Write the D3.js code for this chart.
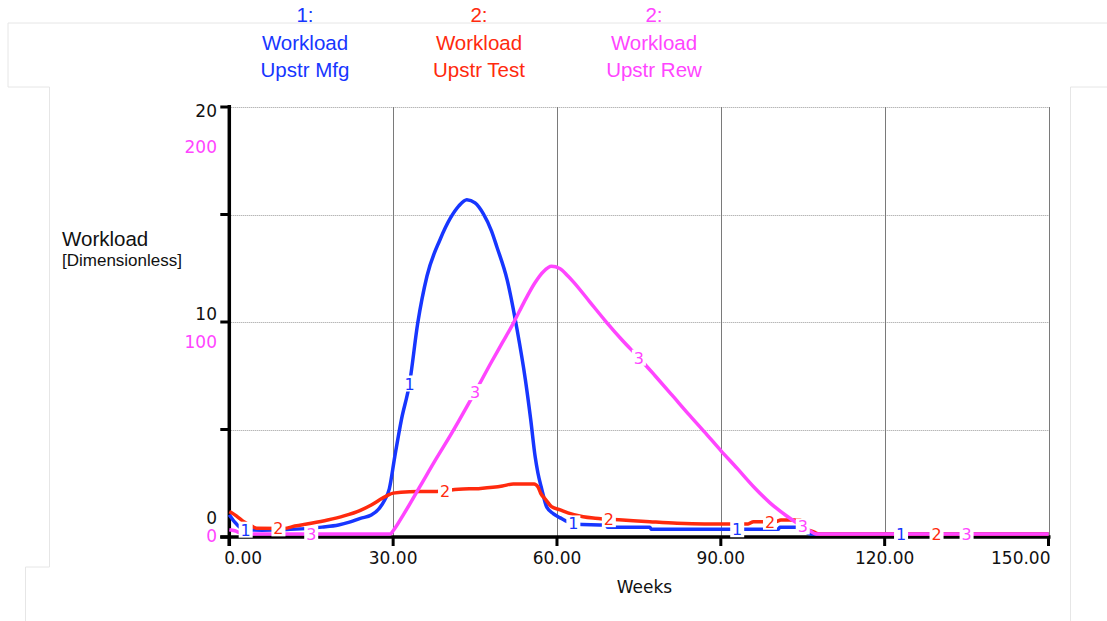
<!DOCTYPE html>
<html>
<head>
<meta charset="utf-8">
<script src="https://cdn.jsdelivr.net/npm/d3@7"></script>
<style>
  html, body { margin: 0; padding: 0; background: #fff; }
  svg { display: block; }
</style>
</head>
<body>
<svg id="chart" width="1107" height="621"></svg>
<script>
// ---------------- DATA ----------------
const xTicks = [0, 30, 60, 90, 120, 150];
const xTickLabels = ["0.00", "30.00", "60.00", "90.00", "120.00", "150.00"];
const yTicks = [0, 5, 10, 15, 20];
const yTickLabels = ["0", "", "10", "", "20"];
const y2TickValues = [0, 100, 200];
const y2TickLabels = ["0", "100", "200"];

const legendNumbers = ["1:", "2:", "2:"];
const legendLine1 = ["Workload", "Workload", "Workload"];
const legendLine2 = ["Upstr Mfg", "Upstr Test", "Upstr Rew"];
const seriesMarks = ["1", "2", "3"];

// [week, value]  (series 1 & 2 on 0-20 scale, series 3 on 0-200 scale)
const upstrMfg = [
  [0,0.9],[1,0.55],[2,0.3],[3,0.2],[6,0.18],[10,0.2],[14,0.25],[17,0.32],[20,0.42],
  [22,0.55],[24,0.73],[26,0.88],[27.5,1.2],[28.5,1.6],[29.3,2.1],[30.3,3.6],[31.5,5.3],
  [33,7.0],[34.5,9.8],[36.2,12.0],[38.6,13.7],[40.5,14.7],[42,15.25],[43.5,15.55],[45,15.4],
  [46.5,14.9],[48,14.1],[49,13.35],[50.9,11.8],[52.7,9.5],[54.2,7.2],[55.2,5.3],[56,3.6],
  [56.5,2.85],[57.2,2.1],[58.1,1.27],[59.3,0.95],[60.6,0.75],[61.5,0.62],[63.5,0.45],
  [69,0.42],[69.3,0.31],[77,0.31],[77.3,0.22],[100.5,0.22],[100.8,0.31],[104,0.31],
  [105.5,0.1],[106.5,0],[150,0]
];
const upstrTest = [
  [0,1.04],[0.5,0.98],[1.5,0.8],[2.5,0.6],[3.5,0.45],[4.3,0.34],[5,0.27],[10,0.26],
  [12,0.37],[15,0.5],[18,0.65],[21,0.84],[24,1.1],[26,1.35],[28,1.66],[29,1.8],[30,1.9],
  [33,1.97],[38,1.98],[42,2.08],[46,2.12],[50,2.23],[52,2.33],[55.8,2.33],[56.5,2.2],
  [57,1.9],[58,1.58],[59,1.27],[60.6,1.12],[62,0.98],[64.8,0.8],[67,0.73],[72,0.65],
  [77,0.57],[82,0.5],[87,0.47],[95,0.47],[96,0.57],[100,0.57],[101,0.65],[104.5,0.65],
  [105.5,0.26],[107,0.1],[108,0],[150,0]
];
const upstrRew = [
  [0,2],[1,1.5],[2,0.5],[3,0],[29.5,0],[30,1.5],[32,9.5],[35,22.5],[38,35.5],[40.4,45.5],
  [42,52.5],[45,66],[48,80],[50,89],[52,98],[54,108],[56,117],[57.5,122],[59,124.5],
  [60.5,123.5],[62,120],[63,117.3],[66,108],[69,98.7],[72,90],[75,82],[78,73.5],
  [81,64.8],[84,56],[87,47.5],[90,38.8],[93,30.5],[96,22],[99,14.5],[102,8.5],[104,5],
  [106,2],[107.5,0],[150,0]
];
const markWeeks1 = [3, 33, 63, 93, 123];
const markWeeks2 = [9, 39.5, 69.5, 99, 129.5];
const markWeeks3 = [15, 45, 75, 105, 135];

// ---------------- LAYOUT ----------------
const colors = ["#1736ff", "#ff2a0e", "#ff45ff"];
const L = 229.3, R = 1048.5, T = 107, B = 537;
const svg = d3.select("#chart");

const x = d3.scaleLinear().domain([0, 150]).range([L, R]);
const y = d3.scaleLinear().domain([0, 20]).range([B, T]);
const y2 = d3.scaleLinear().domain([0, 200]).range([B, T]);
const lineShift = -3;

// faint panel outlines
const faint = "#e6e6e6";
svg.append("path")
  .attr("d", `M8,87 L8,23 L1107,23`)
  .attr("fill", "none").attr("stroke", faint).attr("stroke-width", 1);
svg.append("path")
  .attr("d", `M8,87 L49.5,87 L49.5,567 L25.5,567 L25.5,621`)
  .attr("fill", "none").attr("stroke", faint).attr("stroke-width", 1);
svg.append("path")
  .attr("d", `M1107,87 L1070.5,87 L1070.5,621`)
  .attr("fill", "none").attr("stroke", faint).attr("stroke-width", 1);

// grid
const grid = svg.append("g");
grid.selectAll("line.h").data(yTicks.filter(v => v > 0)).enter().append("line")
  .attr("x1", L).attr("x2", R)
  .attr("y1", d => Math.round(y(d)) + 0.5).attr("y2", d => Math.round(y(d)) + 0.5)
  .attr("stroke", "#9a9a9a").attr("stroke-width", 1).attr("stroke-dasharray", "1,1");
grid.selectAll("line.v").data(xTicks.filter(v => v > 0)).enter().append("line")
  .attr("x1", d => Math.round(x(d)) + 0.5).attr("x2", d => Math.round(x(d)) + 0.5)
  .attr("y1", T).attr("y2", B)
  .attr("stroke", "#7a7a7a").attr("stroke-width", 1);

// axes
const axes = svg.append("g");
axes.append("line").attr("x1", L).attr("x2", L).attr("y1", T - 2).attr("y2", B + 9)
  .attr("stroke", "#000").attr("stroke-width", 3.5);
axes.append("line").attr("x1", L - 9).attr("x2", R + 2).attr("y1", B).attr("y2", B)
  .attr("stroke", "#000").attr("stroke-width", 3.5);
axes.selectAll("line.yt").data(yTicks).enter().append("line")
  .attr("x1", L - 9).attr("x2", L).attr("y1", d => y(d)).attr("y2", d => y(d))
  .attr("stroke", "#000").attr("stroke-width", 3);
axes.selectAll("line.xt").data(xTicks).enter().append("line")
  .attr("x1", d => x(d)).attr("x2", d => x(d)).attr("y1", B).attr("y2", B + 9)
  .attr("stroke", "#000").attr("stroke-width", 3);

const tickFont = "'DejaVu Sans', Verdana, sans-serif";
axes.selectAll("text.xl").data(xTicks).enter().append("text")
  .attr("y", 564)
  .attr("text-anchor", "middle").attr("font-family", tickFont).attr("font-size", 17)
  .attr("fill", "#111").text((d, i) => xTickLabels[i])
  .each(function(d) {
    const w = this.getComputedTextLength();
    let cx = x(d);
    cx = Math.max(cx, L - 5 + w / 2);
    cx = Math.min(cx, R + 2 - w / 2);
    d3.select(this).attr("x", cx);
  });
axes.selectAll("text.yl").data(yTicks).enter().append("text")
  .filter((d, i) => yTickLabels[i] !== "")
  .attr("x", 217).attr("y", d => y(d) - 13.5 + 23.5 * d / 20)
  .attr("text-anchor", "end").attr("font-family", tickFont).attr("font-size", 17)
  .attr("fill", "#111").text(d => yTickLabels[yTicks.indexOf(d)]);
axes.selectAll("text.y2l").data(y2TickValues).enter().append("text")
  .attr("x", 217).attr("y", d => y2(d) + 5 + 41 * d / 200)
  .attr("text-anchor", "end").attr("font-family", tickFont).attr("font-size", 17)
  .attr("fill", colors[2]).text((d, i) => y2TickLabels[i]);

svg.append("text").attr("x", 644.5).attr("y", 593).attr("text-anchor", "middle")
  .attr("font-family", tickFont).attr("font-size", 17).attr("fill", "#111").text("Weeks");

// y axis title
const helv = "'Liberation Sans', Arial, Helvetica, sans-serif";
svg.append("text").attr("x", 62).attr("y", 246).attr("font-family", helv)
  .attr("font-size", 20.5).attr("fill", "#111").text("Workload");
svg.append("text").attr("x", 62).attr("y", 266).attr("font-family", helv)
  .attr("font-size", 17).attr("fill", "#111").text("[Dimensionless]");

// legend
const legendX = [305, 479, 654];
legendX.forEach((lx, i) => {
  const g = svg.append("g").attr("fill", colors[i]).attr("font-family", helv)
    .attr("text-anchor", "middle").attr("font-size", 20.5);
  g.append("text").attr("x", lx).attr("y", 22).text(legendNumbers[i]);
  g.append("text").attr("x", lx).attr("y", 49.5).text(legendLine1[i]);
  g.append("text").attr("x", lx).attr("y", 76.5).text(legendLine2[i]);
});

// series lines
const series = [
  { data: upstrMfg, sy: y, marks: markWeeks1 },
  { data: upstrTest, sy: y, marks: markWeeks2 },
  { data: upstrRew, sy: y2, marks: markWeeks3 }
];
const plot = svg.append("g").attr("transform", `translate(0,${lineShift})`);
series.forEach((s, i) => {
  const line = d3.line().x(d => x(d[0])).y(d => s.sy(d[1])).curve(d3.curveMonotoneX);
  plot.append("path").datum(s.data).attr("d", line)
    .attr("fill", "none").attr("stroke", colors[i]).attr("stroke-width", 3.5)
    .attr("stroke-linejoin", "round");
});

// series number marks
function valueAt(data, t) {
  const i = d3.bisector(d => d[0]).left(data, t);
  if (i <= 0) return data[0][1];
  if (i >= data.length) return data[data.length - 1][1];
  const a = data[i - 1], b = data[i];
  return a[1] + (b[1] - a[1]) * (t - a[0]) / (b[0] - a[0]);
}
const marksG = svg.append("g").attr("transform", `translate(0,${lineShift})`);
series.forEach((s, i) => {
  s.marks.forEach(t => {
    const cx = x(t), cy = s.sy(valueAt(s.data, t));
    marksG.append("rect").attr("x", cx - 7).attr("y", cy - 8).attr("width", 14).attr("height", 16)
      .attr("fill", "#fff");
    marksG.append("text").attr("x", cx).attr("y", cy + 6).attr("text-anchor", "middle")
      .attr("font-family", tickFont).attr("font-size", 16).attr("fill", colors[i])
      .text(seriesMarks[i]);
  });
});
</script>
</body>
</html>
